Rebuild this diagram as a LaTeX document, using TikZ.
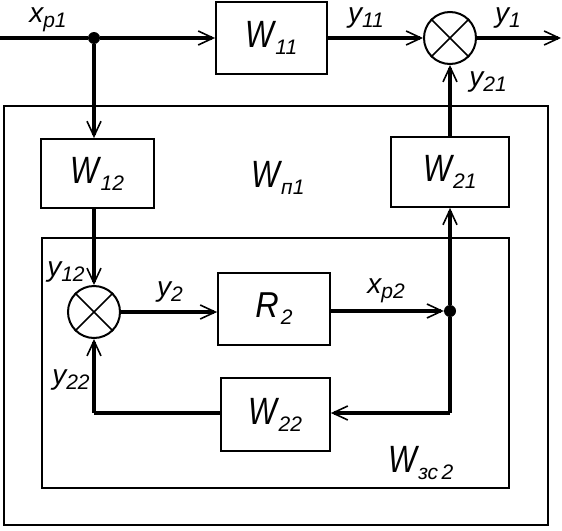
\documentclass[tikz,border=0pt]{standalone}
\usepackage{fontspec}
\setmainfont{Liberation Sans}
\usepackage{graphicx}
\usetikzlibrary{arrows.meta}
\newcommand\Wsub[1]{\scalebox{0.8}[1]{\fontsize{38}{38}\selectfont\itshape W}\kern1pt\raisebox{-7pt}{\fontsize{21}{21}\selectfont\itshape #1}}
\newcommand\ysub[1]{{\fontsize{28}{28}\selectfont\itshape y}\raisebox{-5pt}{\fontsize{21}{21}\selectfont\itshape #1}}
\newcommand\xsub[1]{{\fontsize{28}{28}\selectfont\itshape x}\raisebox{-5pt}{\fontsize{21}{21}\selectfont\itshape #1}}
\tikzset{
  blk/.style={draw, line width=1.8pt, inner sep=0pt},
  framebox/.style={draw, line width=1.8pt, inner sep=0pt},
  sig/.style={line width=4pt, -{Straight Barb[length=15pt,width=14pt,line width=1.6pt]}},
  wire/.style={line width=4pt},
  sumn/.style={draw, circle, line width=2pt, minimum size=52pt, inner sep=0pt},
  jdot/.style={circle, fill, minimum size=12pt, inner sep=0pt},
  lbl/.style={inner sep=0pt},
  cross/.style={line width=1.6pt}
}
\begin{document}
\begin{tikzpicture}[x=1pt,y=-1pt]
\useasboundingbox (0,0) rectangle (562,530);
% frames
\node[framebox, minimum width=544pt, minimum height=419pt] (outer) at (276,315.5) {};
\node[framebox, minimum width=467pt, minimum height=250pt] (inner) at (275.5,363) {};
% blocks
\node[blk, minimum width=111pt, minimum height=72pt] (W11) at (271.5,38) {\Wsub{11}};
\node[blk, minimum width=113pt, minimum height=69pt] (W12) at (97.5,173.5) {\Wsub{12}};
\node[blk, minimum width=118pt, minimum height=70pt] (W21) at (450,172) {\Wsub{21}};
\node[blk, minimum width=112pt, minimum height=72pt] (R2) at (274,309) {\scalebox{0.9}[1]{\fontsize{36}{36}\selectfont\itshape R}\kern2pt\raisebox{-7pt}{\fontsize{21}{21}\selectfont\itshape 2}};
\node[blk, minimum width=109pt, minimum height=73pt] (W22) at (275.5,414.5) {\Wsub{22}};
% summing junctions
\node[sumn] (s1) at (450,38) {};
\node[sumn] (s2) at (94,312) {};
\draw[cross] (s1.north west) -- (s1.south east) (s1.north east) -- (s1.south west);
\draw[cross] (s2.north west) -- (s2.south east) (s2.north east) -- (s2.south west);
% junction dots and free ends
\coordinate (in) at (0,38);
\coordinate (out) at (561,38);
\node[jdot] (j1) at (94,38) {};
\node[jdot] (j2) at (450,311) {};
\coordinate (c1) at (450,413);
\coordinate (c2) at (94,413);
% connectors
\draw[wire] (in) -- (j1);
\draw[sig] (j1) -- (W11.west);
\draw[sig] (W11.east) -- (s1.west);
\draw[sig] (s1.east) -- (out);
\draw[sig] (j1) -- (j1 |- W12.north);
\draw[sig] (W21.north) -- (s1.south);
\draw[sig] (W12.south -| s2) -- (s2.north);
\draw[sig] (s2.east) -- (R2.west |- s2.east);
\draw[sig] (R2.east |- j2) -- (j2);
\draw[sig] (j2) -- (W21.south);
\draw[wire] (j2) -- (c1);
\draw[sig] (c1) -- (W22.east |- c1);
\draw[wire] (W22.west |- c2) -- (c2);
\draw[sig] (c2) -- (s2.south);
% labels
\node[lbl] (lxp1) at (48,20) {\xsub{р1}};
\node[lbl] (ly11) at (366,18) {\ysub{11}};
\node[lbl] (ly1) at (508,18) {\ysub{1}};
\node[lbl] (ly21) at (488,82) {\ysub{21}};
\node[lbl] (lWp1) at (278,178) {\Wsub{п1}};
\node[lbl] (ly12) at (66,272) {\ysub{12}};
\node[lbl] (ly2) at (170,292) {\ysub{2}};
\node[lbl] (lxp2) at (386,291) {\xsub{р2}};
\node[lbl] (ly22) at (71,380) {\ysub{22}};
\node[lbl] (lWzs) at (421,463) {\Wsub{зс\,2}};
\end{tikzpicture}
\end{document}
